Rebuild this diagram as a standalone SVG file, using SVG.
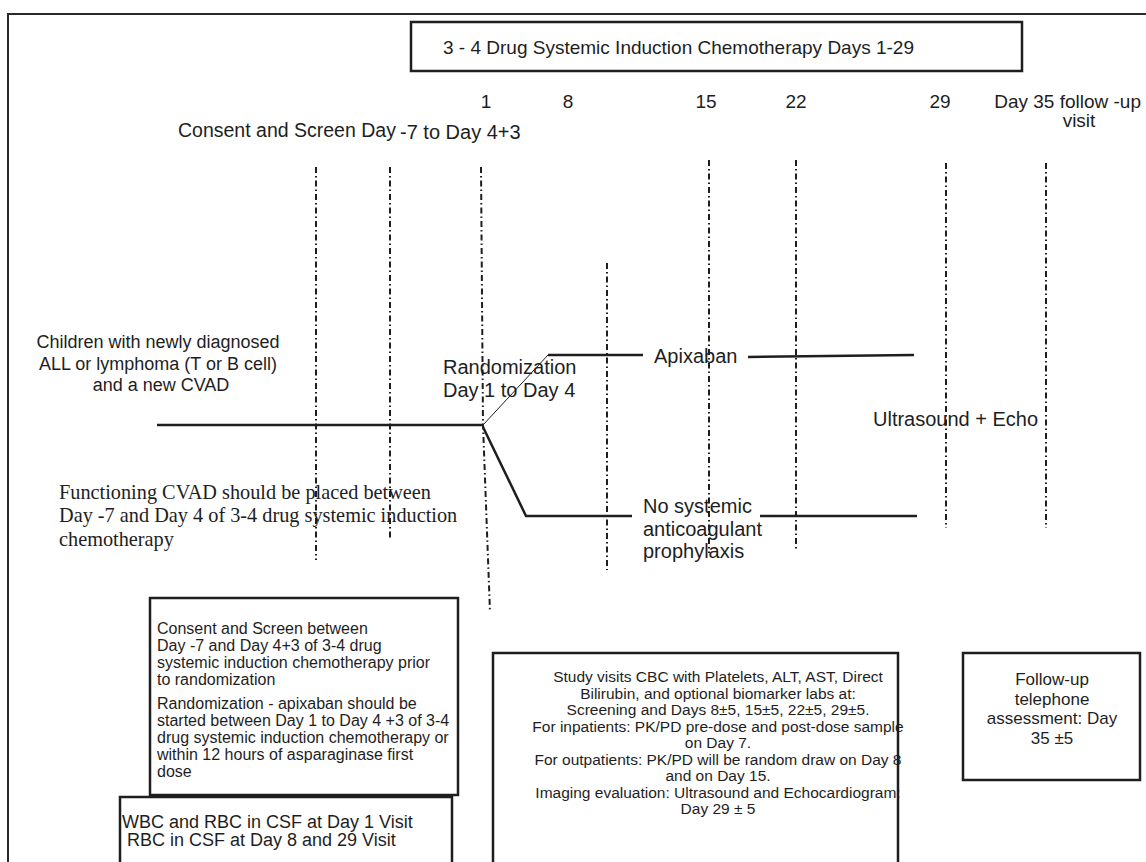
<svg xmlns="http://www.w3.org/2000/svg" width="1146" height="862" viewBox="0 0 1146 862">
  <style>
    .sans { font-family: "Liberation Sans", Arial, sans-serif; fill: #1e1e1e; }
    .serif { font-family: "Liberation Serif", "Times New Roman", serif; fill: #1e1e1e; }
    .box { fill: #ffffff; stroke: #1e1e1e; stroke-width: 2.5; }
    .frame { fill: none; stroke: #2a2a2a; stroke-width: 2; }
    .day { fill: none; stroke: #1e1e1e; stroke-width: 2; stroke-dasharray: 6 3 1.5 3; }
    .arm { fill: none; stroke: #1e1e1e; stroke-width: 2.5; }
    .thin { fill: none; stroke: #1e1e1e; stroke-width: 1; }
  </style>
  <rect x="0" y="0" width="1146" height="862" fill="#ffffff"/>

  <!-- outer frame: top and left rules -->
  <g id="frame">
    <path class="frame" d="M8 862 V14 H1146"/>
  </g>

  <!-- induction chemotherapy banner -->
  <g id="node-induction">
    <rect class="box" x="411" y="22" width="611" height="49" stroke-width="3"/>
    <text class="sans" x="443" y="54" font-size="19">3 - 4 Drug Systemic Induction Chemotherapy Days 1-29</text>
  </g>

  <!-- day labels -->
  <g id="node-days" class="sans" font-size="19">
    <text x="486" y="108" text-anchor="middle">1</text>
    <text x="568" y="108" text-anchor="middle">8</text>
    <text x="706" y="108" text-anchor="middle">15</text>
    <text x="796" y="108" text-anchor="middle">22</text>
    <text x="940" y="108" text-anchor="middle">29</text>
    <text x="1141" y="108" text-anchor="end">Day 35 follow -up</text>
    <text x="1079" y="127" text-anchor="middle">visit</text>
  </g>

  <g id="node-consent-label" class="sans">
    <text x="178" y="137" font-size="19.5">Consent and Screen Day</text>
    <text x="400" y="139" font-size="20">-7 to Day 4+3</text>
  </g>

  <!-- day markers and treatment arms -->
  <g id="connectors">
    <line class="day" x1="316" y1="167" x2="316" y2="560"/>
    <line class="day" x1="390" y1="167" x2="390" y2="540"/>
    <path class="day" d="M481 167 L483 425 L490 612"/>
    <line class="day" x1="607" y1="263" x2="607" y2="570"/>
    <line class="day" x1="709" y1="160" x2="709" y2="553"/>
    <line class="day" x1="796" y1="160" x2="796" y2="551"/>
    <line class="day" x1="946" y1="163" x2="946" y2="528"/>
    <line class="day" x1="1046" y1="163" x2="1046" y2="528"/>

    <line class="arm" x1="157" y1="425" x2="483" y2="425"/>
    <line class="thin" x1="483" y1="425" x2="548" y2="355"/>
    <line class="arm" x1="548" y1="355" x2="643" y2="355"/>
    <line class="arm" x1="748" y1="357" x2="914" y2="355"/>
    <polyline class="arm" points="483,427 526,516 632,516"/>
    <line class="arm" x1="760" y1="516" x2="917" y2="516"/>
  </g>

  <g id="node-population" class="sans" font-size="18" text-anchor="middle">
    <text x="158" y="348">Children with newly diagnosed</text>
    <text x="158" y="370">ALL or lymphoma (T or B cell)</text>
    <text x="161" y="391">and a new CVAD</text>
  </g>

  <g id="node-cvad-note" class="serif" font-size="20.3">
    <text x="59" y="499">Functioning CVAD should be placed between</text>
    <text x="59" y="522">Day -7 and Day 4 of 3-4 drug systemic induction</text>
    <text x="59" y="546">chemotherapy</text>
  </g>

  <g id="node-randomization" class="sans" font-size="20">
    <text x="443" y="374">Randomization</text>
    <text x="443" y="397">Day 1 to Day 4</text>
  </g>

  <g id="node-apixaban" class="sans" font-size="20">
    <text x="654" y="363">Apixaban</text>
  </g>

  <g id="node-no-prophylaxis" class="sans" font-size="20">
    <text x="643" y="513">No systemic</text>
    <text x="643" y="536">anticoagulant</text>
    <text x="643" y="558">prophylaxis</text>
  </g>

  <g id="node-imaging" class="sans" font-size="20">
    <text x="873" y="426">Ultrasound + Echo</text>
  </g>

  <g id="node-consent-box">
    <rect class="box" x="150" y="598" width="308" height="197"/>
    <g class="sans" font-size="16">
      <text x="157" y="634">Consent and Screen between</text>
      <text x="157" y="651">Day -7 and Day 4+3 of 3-4 drug</text>
      <text x="157" y="668">systemic induction chemotherapy prior</text>
      <text x="157" y="685">to randomization</text>
      <text x="157" y="709">Randomization - apixaban should be</text>
      <text x="157" y="726">started between Day 1 to Day 4 +3 of 3-4</text>
      <text x="157" y="743">drug systemic induction chemotherapy or</text>
      <text x="157" y="760">within 12 hours of asparaginase first</text>
      <text x="157" y="777">dose</text>
    </g>
  </g>

  <g id="node-csf">
    <path class="box" d="M120 866 V797 H452 V866" stroke-width="3"/>
    <g class="sans" font-size="18">
      <text x="122" y="828">WBC and RBC in CSF at Day 1 Visit</text>
      <text x="127" y="846">RBC in CSF at Day 8 and 29 Visit</text>
    </g>
  </g>

  <g id="node-study-visits">
    <path class="box" d="M493 866 V653 H898 V866"/>
    <g class="sans" font-size="15.5" text-anchor="middle">
      <text x="718" y="682">Study visits CBC with Platelets, ALT, AST, Direct</text>
      <text x="718" y="698.5">Bilirubin, and optional biomarker labs at:</text>
      <text x="718" y="715">Screening and Days 8±5, 15±5, 22±5, 29±5.</text>
      <text x="718" y="731.5">For inpatients: PK/PD pre-dose and post-dose sample</text>
      <text x="718" y="748">on Day 7.</text>
      <text x="718" y="764.5">For outpatients: PK/PD will be random draw on Day 8</text>
      <text x="718" y="781">and on Day 15.</text>
      <text x="718" y="797.5">Imaging evaluation: Ultrasound and Echocardiogram:</text>
      <text x="718" y="814">Day 29 ± 5</text>
    </g>
  </g>

  <g id="node-follow-up">
    <rect class="box" x="963" y="653" width="177" height="127"/>
    <g class="sans" font-size="17" text-anchor="middle">
      <text x="1052" y="685">Follow-up</text>
      <text x="1052" y="704.5">telephone</text>
      <text x="1052" y="724">assessment: Day</text>
      <text x="1052" y="743.5">35 ±5</text>
    </g>
  </g>
</svg>
